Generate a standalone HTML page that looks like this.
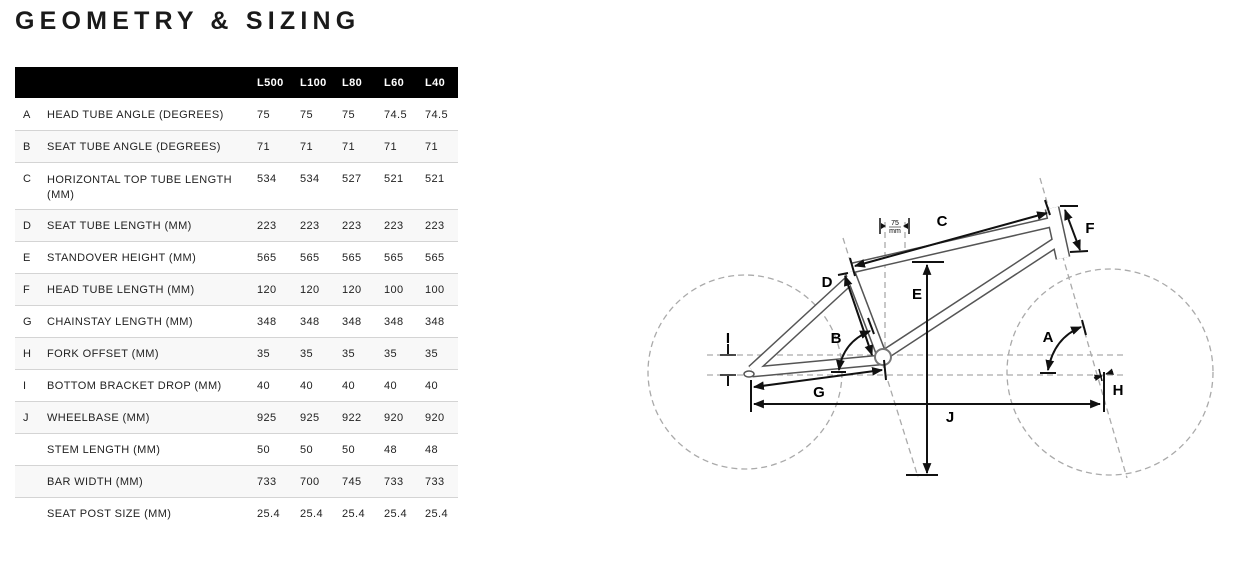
<!DOCTYPE html>
<html><head><meta charset="utf-8"><style>
*{margin:0;padding:0;box-sizing:border-box}
body{width:1246px;height:578px;background:#fff;position:relative;overflow:hidden;font-family:"Liberation Sans",sans-serif;color:#222}
h1{position:absolute;left:15px;top:7px;font-size:25px;font-weight:900;letter-spacing:5.2px;color:#1a1a1a;font-family:"Liberation Sans",sans-serif;white-space:nowrap}
table{position:absolute;left:15px;top:67px;width:443px;border-collapse:collapse;font-size:11px;letter-spacing:0.4px;table-layout:fixed}
th{background:#000;color:#fff;height:31px;text-align:left;font-size:11px;font-weight:bold}
td{height:32px;border-bottom:1px solid #d4d4d4;vertical-align:middle;padding-top:2px;white-space:nowrap}
tr.g td{background:#f8f8f8}
tr:last-child td{border-bottom:none}
td.l{padding-left:8px}
</style></head><body>
<h1>GEOMETRY &amp; SIZING</h1>
<table>
<colgroup><col style="width:32px"><col style="width:210px"><col style="width:43px"><col style="width:42px"><col style="width:42px"><col style="width:41px"><col style="width:33px"></colgroup>
<tr><th></th><th></th><th>L500</th><th>L100</th><th>L80</th><th>L60</th><th>L40</th></tr>
<tr><td class="l">A</td><td>HEAD TUBE ANGLE (DEGREES)</td><td>75</td><td>75</td><td>75</td><td>74.5</td><td>74.5</td></tr>
<tr class="g"><td class="l">B</td><td>SEAT TUBE ANGLE (DEGREES)</td><td>71</td><td>71</td><td>71</td><td>71</td><td>71</td></tr>
<tr><td class="l" style="height:47px;vertical-align:top;padding-top:10px">C</td><td style="vertical-align:top;padding-top:10px;line-height:15px;white-space:normal">HORIZONTAL TOP TUBE LENGTH (MM)</td><td style="vertical-align:top;padding-top:10px">534</td><td style="vertical-align:top;padding-top:10px">534</td><td style="vertical-align:top;padding-top:10px">527</td><td style="vertical-align:top;padding-top:10px">521</td><td style="vertical-align:top;padding-top:10px">521</td></tr>
<tr class="g"><td class="l">D</td><td>SEAT TUBE LENGTH (MM)</td><td>223</td><td>223</td><td>223</td><td>223</td><td>223</td></tr>
<tr><td class="l">E</td><td>STANDOVER HEIGHT (MM)</td><td>565</td><td>565</td><td>565</td><td>565</td><td>565</td></tr>
<tr class="g"><td class="l">F</td><td>HEAD TUBE LENGTH (MM)</td><td>120</td><td>120</td><td>120</td><td>100</td><td>100</td></tr>
<tr><td class="l">G</td><td>CHAINSTAY LENGTH (MM)</td><td>348</td><td>348</td><td>348</td><td>348</td><td>348</td></tr>
<tr class="g"><td class="l">H</td><td>FORK OFFSET (MM)</td><td>35</td><td>35</td><td>35</td><td>35</td><td>35</td></tr>
<tr><td class="l">I</td><td>BOTTOM BRACKET DROP (MM)</td><td>40</td><td>40</td><td>40</td><td>40</td><td>40</td></tr>
<tr class="g"><td class="l">J</td><td>WHEELBASE (MM)</td><td>925</td><td>925</td><td>922</td><td>920</td><td>920</td></tr>
<tr><td class="l"></td><td>STEM LENGTH (MM)</td><td>50</td><td>50</td><td>50</td><td>48</td><td>48</td></tr>
<tr class="g"><td class="l"></td><td>BAR WIDTH (MM)</td><td>733</td><td>700</td><td>745</td><td>733</td><td>733</td></tr>
<tr><td class="l"></td><td>SEAT POST SIZE (MM)</td><td>25.4</td><td>25.4</td><td>25.4</td><td>25.4</td><td>25.4</td></tr>
</table>

<svg width="1246" height="578" style="position:absolute;left:0;top:0" xmlns="http://www.w3.org/2000/svg">
<defs>
<marker id="ar" viewBox="0 0 10 10" refX="9" refY="5" markerWidth="5.5" markerHeight="5.5" orient="auto-start-reverse"><path d="M0,1 L10,5 L0,9 z" fill="#111"/></marker>
</defs>
<g fill="none" stroke="#aaa" stroke-width="1.3" stroke-dasharray="6,4">
<circle cx="745" cy="372" r="97"/>
<circle cx="1110" cy="372" r="103"/>
<line x1="707" y1="355" x2="1127" y2="355"/>
<line x1="707" y1="375" x2="1127" y2="375"/>
<line x1="843" y1="238" x2="918" y2="477"/>
<line x1="1040" y1="178" x2="1127" y2="478"/>
<line x1="885" y1="222" x2="885" y2="350"/>
<line x1="905" y1="222" x2="905" y2="262"/>
</g>
<g stroke-linecap="butt" fill="none">
<g stroke="#555" stroke-width="11">
<line x1="752" y1="370" x2="852" y2="278"/>
<line x1="752" y1="372" x2="880" y2="360"/>
<line x1="850" y1="272" x2="882" y2="356"/>
<line x1="852" y1="268" x2="1052" y2="222"/>
<line x1="1055" y1="243" x2="884" y2="355"/>
<line x1="1052" y1="208" x2="1063" y2="258" stroke-width="15"/>
</g>
<g stroke="#fff" stroke-width="8">
<line x1="752" y1="370" x2="852" y2="278"/>
<line x1="752" y1="372" x2="880" y2="360"/>
<line x1="850" y1="272" x2="882" y2="356"/>
<line x1="852" y1="268" x2="1052" y2="222"/>
<line x1="1055" y1="243" x2="884" y2="355"/>
<line x1="1052" y1="208" x2="1063" y2="258" stroke-width="12"/>
</g>
<circle cx="883" cy="357" r="8" stroke="#777" stroke-width="2" fill="#fff"/>
<ellipse cx="749" cy="374" rx="5" ry="3" stroke="#555" stroke-width="1.5" fill="#fff"/>
</g>
<g stroke="#111" stroke-width="2" fill="none">
<line x1="855" y1="266" x2="1047" y2="213" marker-start="url(#ar)" marker-end="url(#ar)"/>
<line x1="850" y1="258" x2="855" y2="276"/>
<line x1="1045" y1="200" x2="1050" y2="215"/>
<line x1="1065" y1="210" x2="1080" y2="250" marker-start="url(#ar)" marker-end="url(#ar)"/>
<line x1="1060" y1="206" x2="1078" y2="206"/>
<line x1="1070" y1="252" x2="1088" y2="251"/>
<line x1="845" y1="276" x2="872" y2="355" marker-start="url(#ar)" marker-end="url(#ar)"/>
<line x1="838" y1="275" x2="848" y2="273"/>
<line x1="927" y1="265" x2="927" y2="473" marker-start="url(#ar)" marker-end="url(#ar)"/>
<line x1="912" y1="262" x2="944" y2="262"/>
<line x1="906" y1="475" x2="938" y2="475"/>
<line x1="754" y1="387" x2="882" y2="370" marker-start="url(#ar)" marker-end="url(#ar)"/>
<line x1="884" y1="360" x2="886" y2="380"/>
<line x1="754" y1="404" x2="1100" y2="404" marker-start="url(#ar)" marker-end="url(#ar)"/>
<line x1="751" y1="380" x2="751" y2="412"/>
<line x1="1104" y1="372" x2="1104" y2="412"/>
<line x1="728" y1="344" x2="728" y2="354"/>
<line x1="728" y1="386" x2="728" y2="376"/>
<line x1="720" y1="355" x2="736" y2="355" stroke-width="1.5"/>
<line x1="720" y1="375" x2="736" y2="375" stroke-width="1.5"/>
<path d="M1081,327 Q1054,338 1048,370" marker-start="url(#ar)" marker-end="url(#ar)"/>
<line x1="1082" y1="320" x2="1086" y2="335"/>
<line x1="1040" y1="373" x2="1056" y2="373"/>
<path d="M870,331 Q843,342 839,370" marker-start="url(#ar)" marker-end="url(#ar)"/>
<line x1="868" y1="318" x2="874" y2="334"/>
<line x1="831" y1="372" x2="846" y2="372"/>
<line x1="1094" y1="378" x2="1102" y2="376" marker-end="url(#ar)" stroke-width="1.5"/>
<line x1="1112" y1="372" x2="1106" y2="374" marker-end="url(#ar)" stroke-width="1.5"/>
<line x1="1099" y1="369" x2="1102" y2="381" stroke-width="1.5"/>
<line x1="880" y1="218" x2="880" y2="234" stroke-width="1.5"/>
<line x1="909" y1="218" x2="909" y2="234" stroke-width="1.5"/>
</g>
<path d="M881,223 L886,226 L881,229z M908,223 L903,226 L908,229z" fill="#111"/>
<g fill="#000" font-family="Liberation Sans,sans-serif" font-weight="bold" font-size="15" text-anchor="middle">
<text x="942" y="226">C</text>
<text x="1090" y="233">F</text>
<text x="827" y="287">D</text>
<text x="917" y="299">E</text>
<text x="836" y="343">B</text>
<text x="728" y="343">I</text>
<text x="819" y="397">G</text>
<text x="950" y="422">J</text>
<text x="1048" y="342">A</text>
<text x="1118" y="395">H</text>
</g>
<text x="895" y="225" font-size="7" text-anchor="middle" font-family="Liberation Sans,sans-serif">75</text>
<text x="895" y="233" font-size="7" text-anchor="middle" font-family="Liberation Sans,sans-serif">mm</text>
<line x1="889" y1="227" x2="901" y2="227" stroke="#111" stroke-width="0.6"/>
</svg>
</body></html>
